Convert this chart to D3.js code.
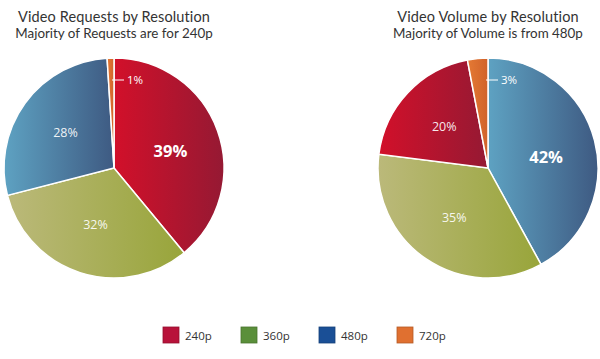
<!DOCTYPE html>
<html><head><meta charset="utf-8">
<script src="https://cdn.jsdelivr.net/npm/d3@7"></script>
<style>html,body{margin:0;padding:0;background:#fff;}svg{display:block;}</style>
</head><body>
<svg id="c" width="600" height="359"></svg>
<script>
const categories = ["240p", "360p", "480p", "720p"];
const requestsOrder = ["240p", "360p", "480p", "720p"];
const requestsValues = [39, 32, 28, 1];
const volumeOrder = ["480p", "360p", "240p", "720p"];
const volumeValues = [42, 35, 20, 3];
const titles = ["Video Requests by Resolution", "Video Volume by Resolution"];
const subtitles = ["Majority of Requests are for 240p", "Majority of Volume is from 480p"];

const gradStops = {
  "240p": ["#d2102a", "#951933"],
  "360p": ["#bbb97a", "#98a53a"],
  "480p": ["#5ea2c2", "#3e5a82"],
  "720p": ["#e57a34", "#d0622a"]
};
const legendColors = {"240p": "#b8123a", "360p": "#5a8f3a", "480p": "#1a4f96", "720p": "#e07030"};

const svg = d3.select("#c");
const defs = svg.append("defs");
categories.forEach(c => {
  const g = defs.append("linearGradient").attr("id", "g" + c)
    .attr("x1", 0).attr("x2", 1).attr("y1", 0).attr("y2", 0);
  g.append("stop").attr("offset", "0%").attr("stop-color", gradStops[c][0]);
  g.append("stop").attr("offset", "100%").attr("stop-color", gradStops[c][1]);
});

const font = "'Open Sans', Lato, sans-serif";
const titleFont = "Lato, 'Open Sans', sans-serif";
const R = 110;

function drawPie(cx, cy, order, values, title, subtitle, bigIdx) {
  const data = order.map((k, i) => ({key: k, value: values[i]}));
  const pie = d3.pie().sort(null).value(d => d.value);
  const arcs = pie(data);
  const arc = d3.arc().innerRadius(0).outerRadius(R);
  const labelArc = d3.arc().innerRadius(60).outerRadius(60);
  const g = svg.append("g").attr("transform", `translate(${cx},${cy})`);
  g.selectAll("path").data(arcs).join("path")
    .attr("d", arc)
    .attr("fill", d => `url(#g${d.data.key})`)
    .attr("stroke", "#fff").attr("stroke-width", 1.5);
  arcs.forEach((d, i) => {
    if (d.data.value < 5) {
      g.append("line").attr("x1", -2).attr("x2", 10).attr("y1", -88).attr("y2", -88)
        .attr("stroke", "#fff").attr("stroke-width", 1);
      g.append("text").attr("x", 13).attr("y", -88).attr("dy", "0.35em")
        .attr("fill", "#fff").attr("font-family", font).attr("font-size", 11.5)
        .text(d.data.value + "%");
    } else {
      const [x, y] = labelArc.centroid(d);
      g.append("text").attr("x", x).attr("y", y + (i === bigIdx ? 4 : 0)).attr("dy", "0.35em")
        .attr("text-anchor", "middle").attr("fill", "#fff")
        .attr("font-family", font)
        .attr("font-size", i === bigIdx ? 16.5 : 12.5)
        .attr("font-weight", i === bigIdx ? "bold" : "normal")
        .attr("fill-opacity", i === bigIdx ? 1 : 0.92)
        .text(d.data.value + "%");
    }
  });
  svg.append("text").attr("x", cx).attr("y", 21.5).attr("text-anchor", "middle")
    .attr("font-family", titleFont).attr("font-size", 14.5).attr("letter-spacing", 0.12)
    .attr("fill", "#333").text(title);
  svg.append("text").attr("x", cx).attr("y", 37.5).attr("text-anchor", "middle")
    .attr("font-family", titleFont).attr("font-size", 13.4)
    .attr("fill", "#333").text(subtitle);
}

drawPie(114, 168, requestsOrder, requestsValues, titles[0], subtitles[0], 0);
drawPie(488, 168, volumeOrder, volumeValues, titles[1], subtitles[1], 0);

const lx = d3.scaleBand().domain(categories).range([163, 475]);
const lg = svg.append("g");
categories.forEach(c => {
  lg.append("rect").attr("x", lx(c)).attr("y", 327).attr("width", 16).attr("height", 16)
    .attr("fill", legendColors[c]).attr("stroke", d3.color(legendColors[c]).darker(0.6)).attr("stroke-width", 0.8);
  lg.append("text").attr("x", lx(c) + 22).attr("y", 339.5)
    .attr("font-family", font).attr("font-size", 11.5).attr("fill", "#333").text(c);
});
</script>
</body></html>
